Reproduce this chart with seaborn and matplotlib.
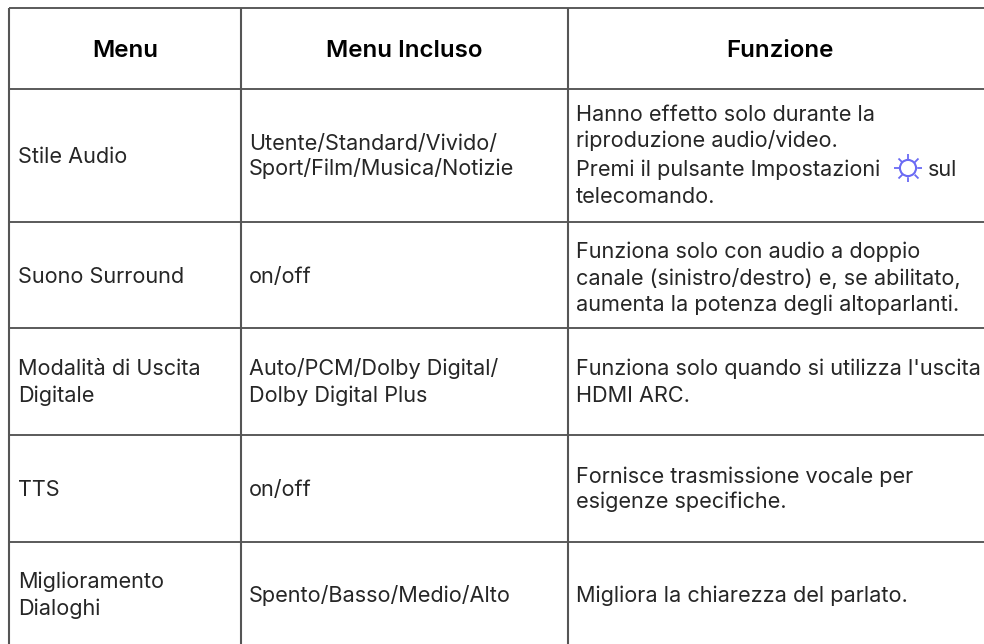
import matplotlib.pyplot as plt
import seaborn as sns

headers = ["Menu", "Menu Incluso", "Funzione"]
menu = [["Stile Audio"], ["Suono Surround"], ["Modalità di Uscita", "Digitale"], ["TTS"],
        ["Miglioramento", "Dialoghi"]]
incluso = [["Utente/Standard/Vivido/", "Sport/Film/Musica/Notizie"], ["on/off"],
           ["Auto/PCM/Dolby Digital/", "Dolby Digital Plus"], ["on/off"],
           ["Spento/Basso/Medio/Alto"]]
funzione = [["Hanno effetto solo durante la", "riproduzione audio/video.",
             "Premi il pulsante Impostazioni", "telecomando."],
            ["Funziona solo con audio a doppio", "canale (sinistro/destro) e, se abilitato,",
             "aumenta la potenza degli altoparlanti."],
            ["Funziona solo quando si utilizza l'uscita", "HDMI ARC."],
            ["Fornisce trasmissione vocale per", "esigenze specifiche."],
            ["Migliora la chiarezza del parlato."]]
after_icon = "sul"

# layout in reference pixels
col_edges = [9, 241, 568]
row_edges = [8, 88.5, 221.5, 327.5, 434.5, 541.5]
header_x = [125, 404, 780]
text_x = [18, 249, 576]
menu_base = [[163], [283], [375, 402], [496], [588, 615]]
incluso_base = [[150, 175], [283], [375, 402], [496], [602]]
funzione_base = [[121, 147, 176, 203], [258, 284.5, 311], [375, 402], [483, 508], [602]]

sns.set_theme(style="white")
plt.rcParams['font.family'] = ['Inter', 'DejaVu Sans']

fig, ax = plt.subplots(figsize=(9.84, 6.44), dpi=100)
fig.subplots_adjust(0, 0, 1, 1)
ax.set_xlim(0, 984)
ax.set_ylim(644, 0)
ax.axis("off")

ax.hlines(row_edges, col_edges[0], 984, color="#4d4d4d", lw=1.3)
ax.vlines(col_edges, row_edges[0], 644, color="#555555", lw=1.5)

for x, h in zip(header_x, headers):
    ax.text(x, 57, h, ha="center", va="baseline", fontsize=17.4, fontweight="semibold", color="black")

FS = 15.6
for col, bases, x in zip([menu, incluso, funzione], [menu_base, incluso_base, funzione_base], text_x):
    for lines, ys in zip(col, bases):
        for line, y in zip(lines, ys):
            ax.text(x, y, line, va="baseline", fontsize=FS, color="#262626")
ax.text(928, funzione_base[0][2], after_icon, va="baseline", fontsize=FS, color="#262626")

# settings icon
icon = "#6a6af4"
ax.scatter([908], [168], s=378, marker="+", color=icon, linewidths=1.3, zorder=2)
ax.scatter([908], [168], s=207, marker="x", color=icon, linewidths=1.3, zorder=2)
ax.scatter([908], [168], s=135, marker="o", color="white", zorder=2.5)
ax.scatter([908], [168], s=135, facecolors="none", edgecolors=icon, linewidths=1.5, zorder=3)

fig.savefig("out.png", dpi=100)
